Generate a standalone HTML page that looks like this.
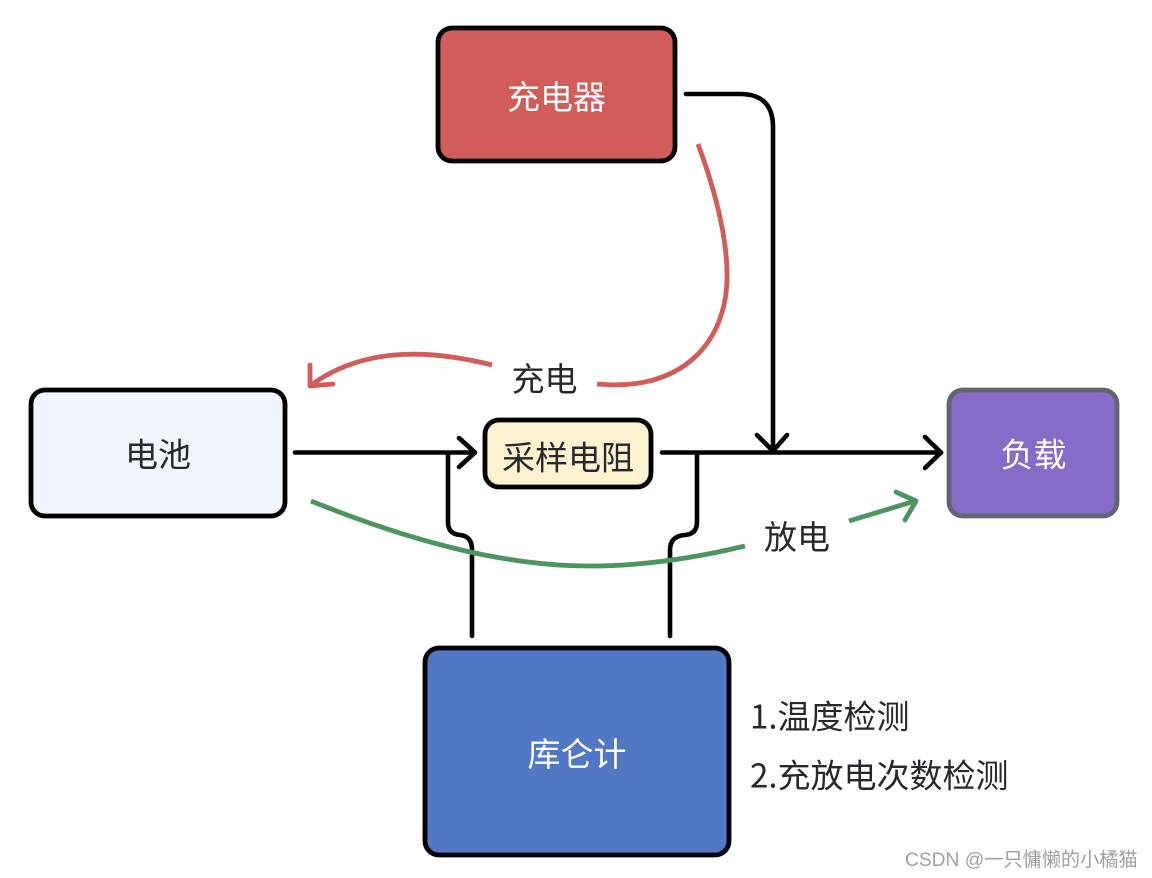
<!DOCTYPE html>
<html><head><meta charset="utf-8"><style>
html,body{margin:0;padding:0;background:#fff}
svg{display:block}
text{font-family:"Noto Sans CJK SC","Liberation Sans",sans-serif;}
</style></head><body>
<svg width="1152" height="878" viewBox="0 0 1152 878" xmlns="http://www.w3.org/2000/svg">
<g stroke-width="4.8" stroke="#000">
<rect x="438" y="28" width="237" height="133" rx="14" fill="#d15c5a"/>
<rect x="31" y="390" width="254" height="126" rx="14" fill="#f0f5fe"/>
<rect x="485" y="420" width="166" height="67" rx="14" fill="#fdf2cf"/>
<rect x="949" y="390" width="168" height="126" rx="14" fill="#866bc9" stroke="#5f6670"/>
<rect x="425" y="648" width="304" height="207" rx="14" fill="#5177c5"/>
</g>
<g fill="none" stroke="#000" stroke-width="4.6" stroke-linecap="round" stroke-linejoin="round">
<path d="M686 94H740Q773 94 773 127V451"/>
<path d="M757 435L773 451L787 435"/>
<path d="M295 452.5H474"/>
<path d="M459 438L475 452.5L459 467"/>
<path d="M662 452.5H941"/>
<path d="M925 437L941 452.5L925 468"/>
<path d="M448 453V522Q448 534 460 535Q472 536 472 550V636"/>
<path d="M697 453V522Q697 534 685 535Q670 536 670 550V636"/>
</g>
<g fill="none" stroke="#d15c5a" stroke-width="4.8" stroke-linejoin="round">
<path d="M698 144C715 190 728 240 727 280C725 345 680 392 597 384"/>
<path d="M492 365C420 347 360 350 311 385"/>
<path d="M310 365L310 386L333 384" stroke-linecap="round"/>
</g>
<g fill="none" stroke="#4d9560" stroke-width="4.8" stroke-linejoin="round">
<path d="M311 501C420 545 510 566 590 566C640 566 695 558 745 546"/>
<path d="M849 521L915 501"/>
<path d="M896 492L916 501L905 520" stroke-linecap="round"/>
</g>
<g font-size="33" text-anchor="middle">
<text x="556.5" y="109" fill="#fff">充电器</text>
<text x="158" y="466.5" fill="#26282e">电池</text>
<text x="568" y="469.5" fill="#26282e">采样电阻</text>
<text x="1033.5" y="466.5" fill="#fff">负载</text>
<text x="577" y="766" fill="#fff">库仑计</text>
<text x="544.5" y="391" fill="#26282e">充电</text>
<text x="797" y="549" fill="#26282e">放电</text>
</g>
<g font-size="33" fill="#26282e">
<text x="750" y="728.5">1.温度检测</text>
<text x="750" y="787.5">2.充放电次数检测</text>
</g>
<text x="905" y="866" font-size="19.2" fill="#a0a0a0" style='font-family:"Liberation Sans","Noto Sans CJK SC",sans-serif'>CSDN @一只慵懒的小橘猫</text>
</svg>
</body></html>
